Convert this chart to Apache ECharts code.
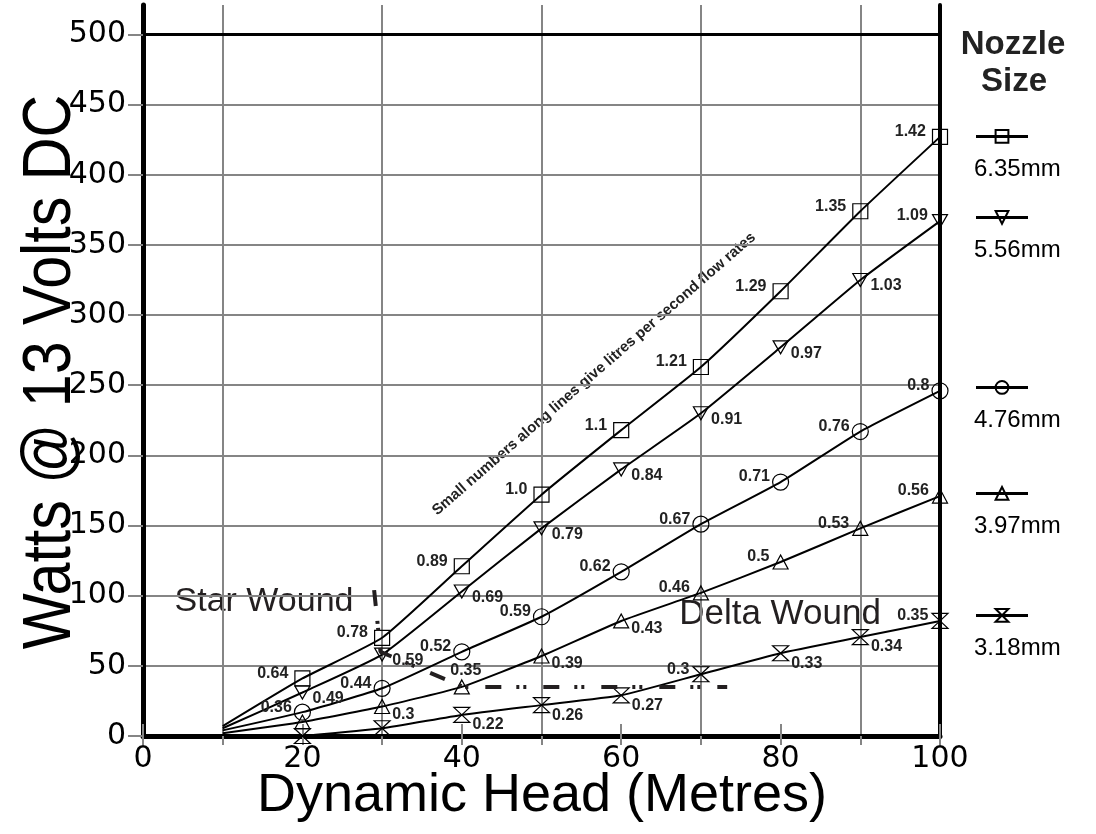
<!DOCTYPE html>
<html><head><meta charset="utf-8">
<script src="https://cdn.jsdelivr.net/npm/echarts@6.0.0/dist/echarts.min.js"></script>
<style>html,body{margin:0;padding:0;background:#fff}#c{width:1096px;height:834px}</style>
</head><body><div id="c"></div>
<script>
// ---------- data ----------
const heads = [10, 20, 30, 40, 50, 60, 70, 80, 90, 100];
const heads318 = [20, 30, 40, 50, 60, 70, 80, 90, 100];
const nozzleSizes = ['6.35mm', '5.56mm', '4.76mm', '3.97mm', '3.18mm'];

const watts635 = [7, 41, 70, 121, 172, 218, 263, 317, 374, 427];
const flow635 = ['', '0.64', '0.78', '0.89', '1.0', '1.1', '1.21', '1.29', '1.35', '1.42'];
const watts556 = [5.5, 31, 58, 103, 148, 190, 230, 277, 325, 367];
const flow556 = ['', '0.49', '0.59', '0.69', '0.79', '0.84', '0.91', '0.97', '1.03', '1.09'];
const watts476 = [4, 17, 34, 60, 85, 117, 151, 181, 217, 246];
const flow476 = ['', '0.36', '0.44', '0.52', '0.59', '0.62', '0.67', '0.71', '0.76', '0.8'];
const watts397 = [2, 10, 21, 35, 57, 82, 102, 124, 148, 171];
const flow397 = ['', '', '0.3', '0.35', '0.39', '0.43', '0.46', '0.5', '0.53', '0.56'];
const watts318 = [0, 5.5, 15, 22, 29, 44, 59, 70.5, 82];
const flow318 = ['', '', '0.22', '0.26', '0.27', '0.3', '0.33', '0.34', '0.35'];

const starWoundHead = [29.0, 29.8, 40.2, 73.3];
const starWoundWatts = [104, 60, 35, 35];

const yTickValues = [0, 50, 100, 150, 200, 250, 300, 350, 400, 450, 500];
const xLabelValues = [0, 20, 40, 60, 80, 100];

// ---------- label placement (style, not data) ----------
const plan = {
  '6.35mm': 'NLLLLLLLLL',
  '5.56mm': 'NRRRRRRRRL',
  '4.76mm': 'NLLLLLLLLL',
  '3.97mm': 'NNRTRRLLLL',
  '3.18mm': 'NNRRRLRRL'
};
const gray = '#858585';
const FONT = '"Liberation Sans", Arial, sans-serif';
const LBL = { fontFamily: FONT, fontWeight: 'bold', fontSize: 16, color: '#222' };

function labelFor(code, rOff, lDist) {
  if (code === 'N') return { show: false };
  if (code === 'L') return Object.assign({ show: true, position: 'left', distance: lDist, offset: [0, -5] }, LBL);
  if (code === 'R') return Object.assign({ show: true, position: 'right', distance: 2, offset: [0, rOff] }, LBL);
  return Object.assign({ show: true, position: 'top', distance: 1, offset: [4, 0] }, LBL);
}

function buildSeries(name, xs, ys, flows, symbol, size, rOff, lDist) {
  const codes = plan[name];
  return {
    type: 'line', name: name, symbol: symbol, symbolSize: size, showAllSymbol: true,
    smooth: 0.15, z: 3,
    lineStyle: { color: '#000', width: 2 },
    itemStyle: { color: 'rgba(255,255,255,0)', borderColor: '#000', borderWidth: 1.2 },
    emphasis: { disabled: true },
    data: xs.map((x, i) => {
      const item = { value: [x, ys[i]], name: flows[i], label: labelFor(codes[i], rOff, lDist) };
      if (i === 0 && xs === heads) item.symbol = 'none';
      return item;
    }),
    label: { formatter: '{b}' }
  };
}

const seriesList = [
  buildSeries('6.35mm', heads, watts635, flow635, 'rect', 15, 0, 6),
  buildSeries('5.56mm', heads, watts556, flow556, 'path://M0,0L16,0L8,14Z', [15, 13], 6, 4),
  buildSeries('4.76mm', heads, watts476, flow476, 'circle', 16, 0, 2),
  buildSeries('3.97mm', heads, watts397, flow397, 'path://M8,0L16,14L0,14Z', [15, 14], 8, 3),
  buildSeries('3.18mm', heads318, watts318, flow318, 'path://M0,0L16,0L0,15L16,15Z', [16, 15], 10, 3)
];

seriesList.push({
  type: 'line', name: 'Star Wound', symbol: 'none', silent: true, z: 4,
  lineStyle: { color: '#231f20', width: 4, type: [16, 15, 3, 4, 3, 17], cap: 'butt' },
  data: starWoundHead.map((x, i) => [x, starWoundWatts[i]]),
  markLine: {
    silent: true, symbol: 'none', label: { show: false },
    lineStyle: { color: '#000', width: 3, type: 'solid' },
    data: [{ yAxis: 500 }]
  }
});

const legendLineY = [137, 218, 388, 494, 616];
const legends = nozzleSizes.map((n, i) => ({
  data: [n], left: 974, top: legendLineY[i] - 8, padding: 0,
  itemWidth: 52, itemHeight: 16, selectedMode: false,
  lineStyle: { width: 3 },
  formatter: '{t|{name}}',
  textStyle: {
    padding: [66, 0, 0, -59],
    rich: { t: { fontFamily: FONT, fontSize: 24, lineHeight: 28, color: '#000' } }
  }
}));

const splitX = [];
for (let i = 0; i <= 10; i++) splitX.push(i % 2 === 1 ? gray : 'rgba(0,0,0,0)');
const splitY = ['rgba(0,0,0,0)'];
for (let i = 1; i <= 9; i++) splitY.push(gray);
splitY.push('#000', 'rgba(0,0,0,0)');

const tickFont = { fontFamily: 'DejaVu Sans, sans-serif', fontSize: 30, color: '#000' };

const option = {
  animation: false,
  backgroundColor: '#fff',
  grid: { left: 143, right: 156, top: 5, bottom: 98, containLabel: false },
  legend: legends,
  xAxis: [
    {
      type: 'value', min: 0, max: 100, interval: 10,
      axisLine: { show: true, lineStyle: { color: '#000', width: 5 } },
      axisTick: { show: true, length: 9, lineStyle: { color: gray, width: 2 } },
      axisLabel: Object.assign({ customValues: xLabelValues, margin: 8 }, tickFont),
      splitLine: { show: true, showMinLine: true, showMaxLine: true, lineStyle: { color: splitX, width: 2 } }
    },
    {
      type: 'value', min: 0, max: 100, interval: 10, position: 'bottom',
      axisLine: { show: false },
      axisTick: { show: true, inside: true, length: 12, customValues: xLabelValues, lineStyle: { color: gray, width: 2 } },
      axisLabel: { show: false },
      splitLine: { show: false }
    }
  ],
  yAxis: [
    {
      type: 'value', min: 0, max: 521, interval: 50,
      axisLine: { show: true, lineStyle: { color: '#000', width: 5 } },
      axisTick: { show: true, length: 15, customValues: yTickValues, lineStyle: { color: gray, width: 2 } },
      axisLabel: Object.assign({ customValues: yTickValues, margin: 17 }, tickFont),
      splitLine: { show: true, showMinLine: true, showMaxLine: true, lineStyle: { color: splitY, width: 2 } }
    },
    {
      type: 'value', min: 0, max: 521, interval: 50, position: 'right',
      axisLine: { show: true, onZero: false, lineStyle: { color: '#000', width: 4 } },
      axisTick: { show: false }, axisLabel: { show: false }, splitLine: { show: false }
    }
  ],
  series: seriesList,
  graphic: [
    { type: 'text', x: 51, y: 372, rotation: Math.PI / 2, scaleX: 0.87, silent: true,
      style: { text: 'Watts @ 13 Volts DC', font: '68px ' + FONT, fill: '#000', align: 'center', verticalAlign: 'middle' } },
    { type: 'text', x: 542, y: 796, silent: true,
      style: { text: 'Dynamic Head (Metres)', font: '54px ' + FONT, fill: '#000', align: 'center', verticalAlign: 'middle' } },
    { type: 'text', x: 594, y: 374, rotation: 41 * Math.PI / 180, silent: true,
      style: { text: 'Small numbers along lines give litres per second flow rates', font: 'bold 15px ' + FONT, fill: '#222', align: 'center', verticalAlign: 'middle' } },
    { type: 'text', x: 264, y: 602, silent: true,
      style: { text: 'Star Wound', font: '34px ' + FONT, fill: '#231f20', align: 'center', verticalAlign: 'middle' } },
    { type: 'text', x: 780, y: 614, silent: true,
      style: { text: 'Delta Wound', font: '35px ' + FONT, fill: '#231f20', align: 'center', verticalAlign: 'middle' } },
    { type: 'text', x: 1013, y: 45, silent: true,
      style: { text: 'Nozzle', font: 'bold 33px ' + FONT, fill: '#222', align: 'center', verticalAlign: 'middle' } },
    { type: 'text', x: 1014, y: 82, silent: true,
      style: { text: 'Size', font: 'bold 33px ' + FONT, fill: '#222', align: 'center', verticalAlign: 'middle' } }
  ]
};

const chart = echarts.init(document.getElementById('c'), null, { renderer: 'canvas' });
chart.setOption(option);
</script>
</body></html>
